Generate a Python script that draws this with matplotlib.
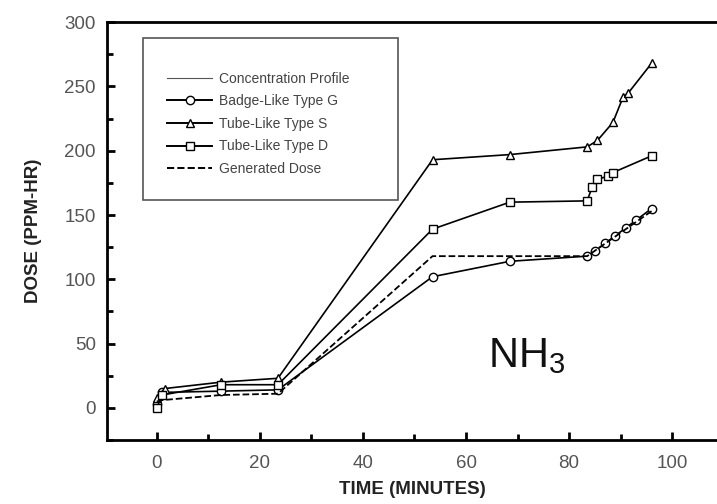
import matplotlib.pyplot as plt
import matplotlib.patches as patches
from matplotlib.lines import Line2D
from matplotlib.ticker import MultipleLocator

plt.rcParams['font.family'] = ['Liberation Sans', 'DejaVu Sans']
plt.rcParams['mathtext.fontset'] = 'custom'
plt.rcParams['mathtext.rm'] = 'Liberation Sans'
plt.rcParams['mathtext.default'] = 'rm'

# readings from the NH3 dose plot
t_s = [0, 1.5, 12.5, 23.5, 53.5, 68.5, 83.5, 85.5, 88.5, 90.5, 91.5, 96]
dose_s = [8, 15, 20, 23, 193, 197, 203, 208, 222, 242, 245, 268]

t_d = [0, 1, 12.5, 23.5, 53.5, 68.5, 83.5, 84.5, 85.5, 87.5, 88.5, 96]
dose_d = [0, 10, 18, 18, 139, 160, 161, 172, 178, 180, 183, 196]

t_g = [0, 1, 12.5, 23.5, 53.5, 68.5, 83.5, 85, 87, 89, 91, 93, 96]
dose_g = [3, 12, 13, 14, 102, 114, 118, 122, 128, 134, 140, 146, 155]

t_gen = [0, 1, 12.5, 23.5, 53.5, 83.5, 96]
dose_gen = [5, 6, 10, 11, 118, 118, 153]

labels = ["Concentration Profile", "Badge-Like Type G", "Tube-Like Type S",
          "Tube-Like Type D", "Generated Dose"]

fig = plt.figure(figsize=(7.17, 5.04), dpi=100)
ax = fig.add_axes([0.149, 0.127, 0.851, 0.829])

mk = dict(markerfacecolor='white', markeredgecolor='black', markersize=6,
          markeredgewidth=1.0, color='black', linewidth=1.2)
ax.plot(t_g, dose_g, marker='o', **mk)
ax.plot(t_s, dose_s, marker='^', **mk)
ax.plot(t_d, dose_d, marker='s', **mk)
ax.plot(t_gen, dose_gen, color='black', linestyle='--', linewidth=1.3)

ax.set_xlim(-9.7, 108.7)
ax.set_ylim(-25, 300)
ax.xaxis.set_major_locator(MultipleLocator(20))
ax.xaxis.set_minor_locator(MultipleLocator(10))
ax.yaxis.set_major_locator(MultipleLocator(50))
ax.yaxis.set_minor_locator(MultipleLocator(25))
ax.tick_params(which='both', direction='in', width=2, labelsize=13.5,
               labelcolor='#555555', right=False, top=False)
ax.tick_params(which='major', length=6)
ax.tick_params(which='minor', length=4)
ax.tick_params(axis='x', pad=11)
ax.tick_params(axis='y', pad=8)
for side in ['left', 'bottom', 'top']:
    ax.spines[side].set_linewidth(2)
ax.spines['right'].set_visible(False)

ax.set_xlabel("TIME (MINUTES)", fontsize=13.5, fontweight='bold', color='#222222', labelpad=6)
ax.set_ylabel("DOSE (PPM-HR)", fontsize=13.5, fontweight='bold', color='#222222', labelpad=16)

ax.text(64.3, 32, r"NH$_3$", fontsize=30, color='#111111')

# legend box
box = patches.Rectangle((0.059, 0.574), 0.418, 0.388, transform=ax.transAxes,
                        fill=False, edgecolor='#555555', linewidth=1.2)
ax.add_patch(box)
hk = dict(markerfacecolor='white', markeredgecolor='black', markersize=6,
          color='black', linewidth=1.4)
handles = [
    Line2D([], [], color='#555555', linewidth=0.8),
    Line2D([], [], marker='o', **hk),
    Line2D([], [], marker='^', **hk),
    Line2D([], [], marker='s', **hk),
    Line2D([], [], color='black', linestyle='--', linewidth=1.4),
]
ax.legend(handles, labels, loc='upper left', bbox_to_anchor=(0.09, 0.895),
          frameon=False, fontsize=10, handlelength=3.2, labelspacing=0.62,
          handletextpad=0.5, borderaxespad=0, labelcolor='#444444')

fig.savefig("out.png", dpi=100)
